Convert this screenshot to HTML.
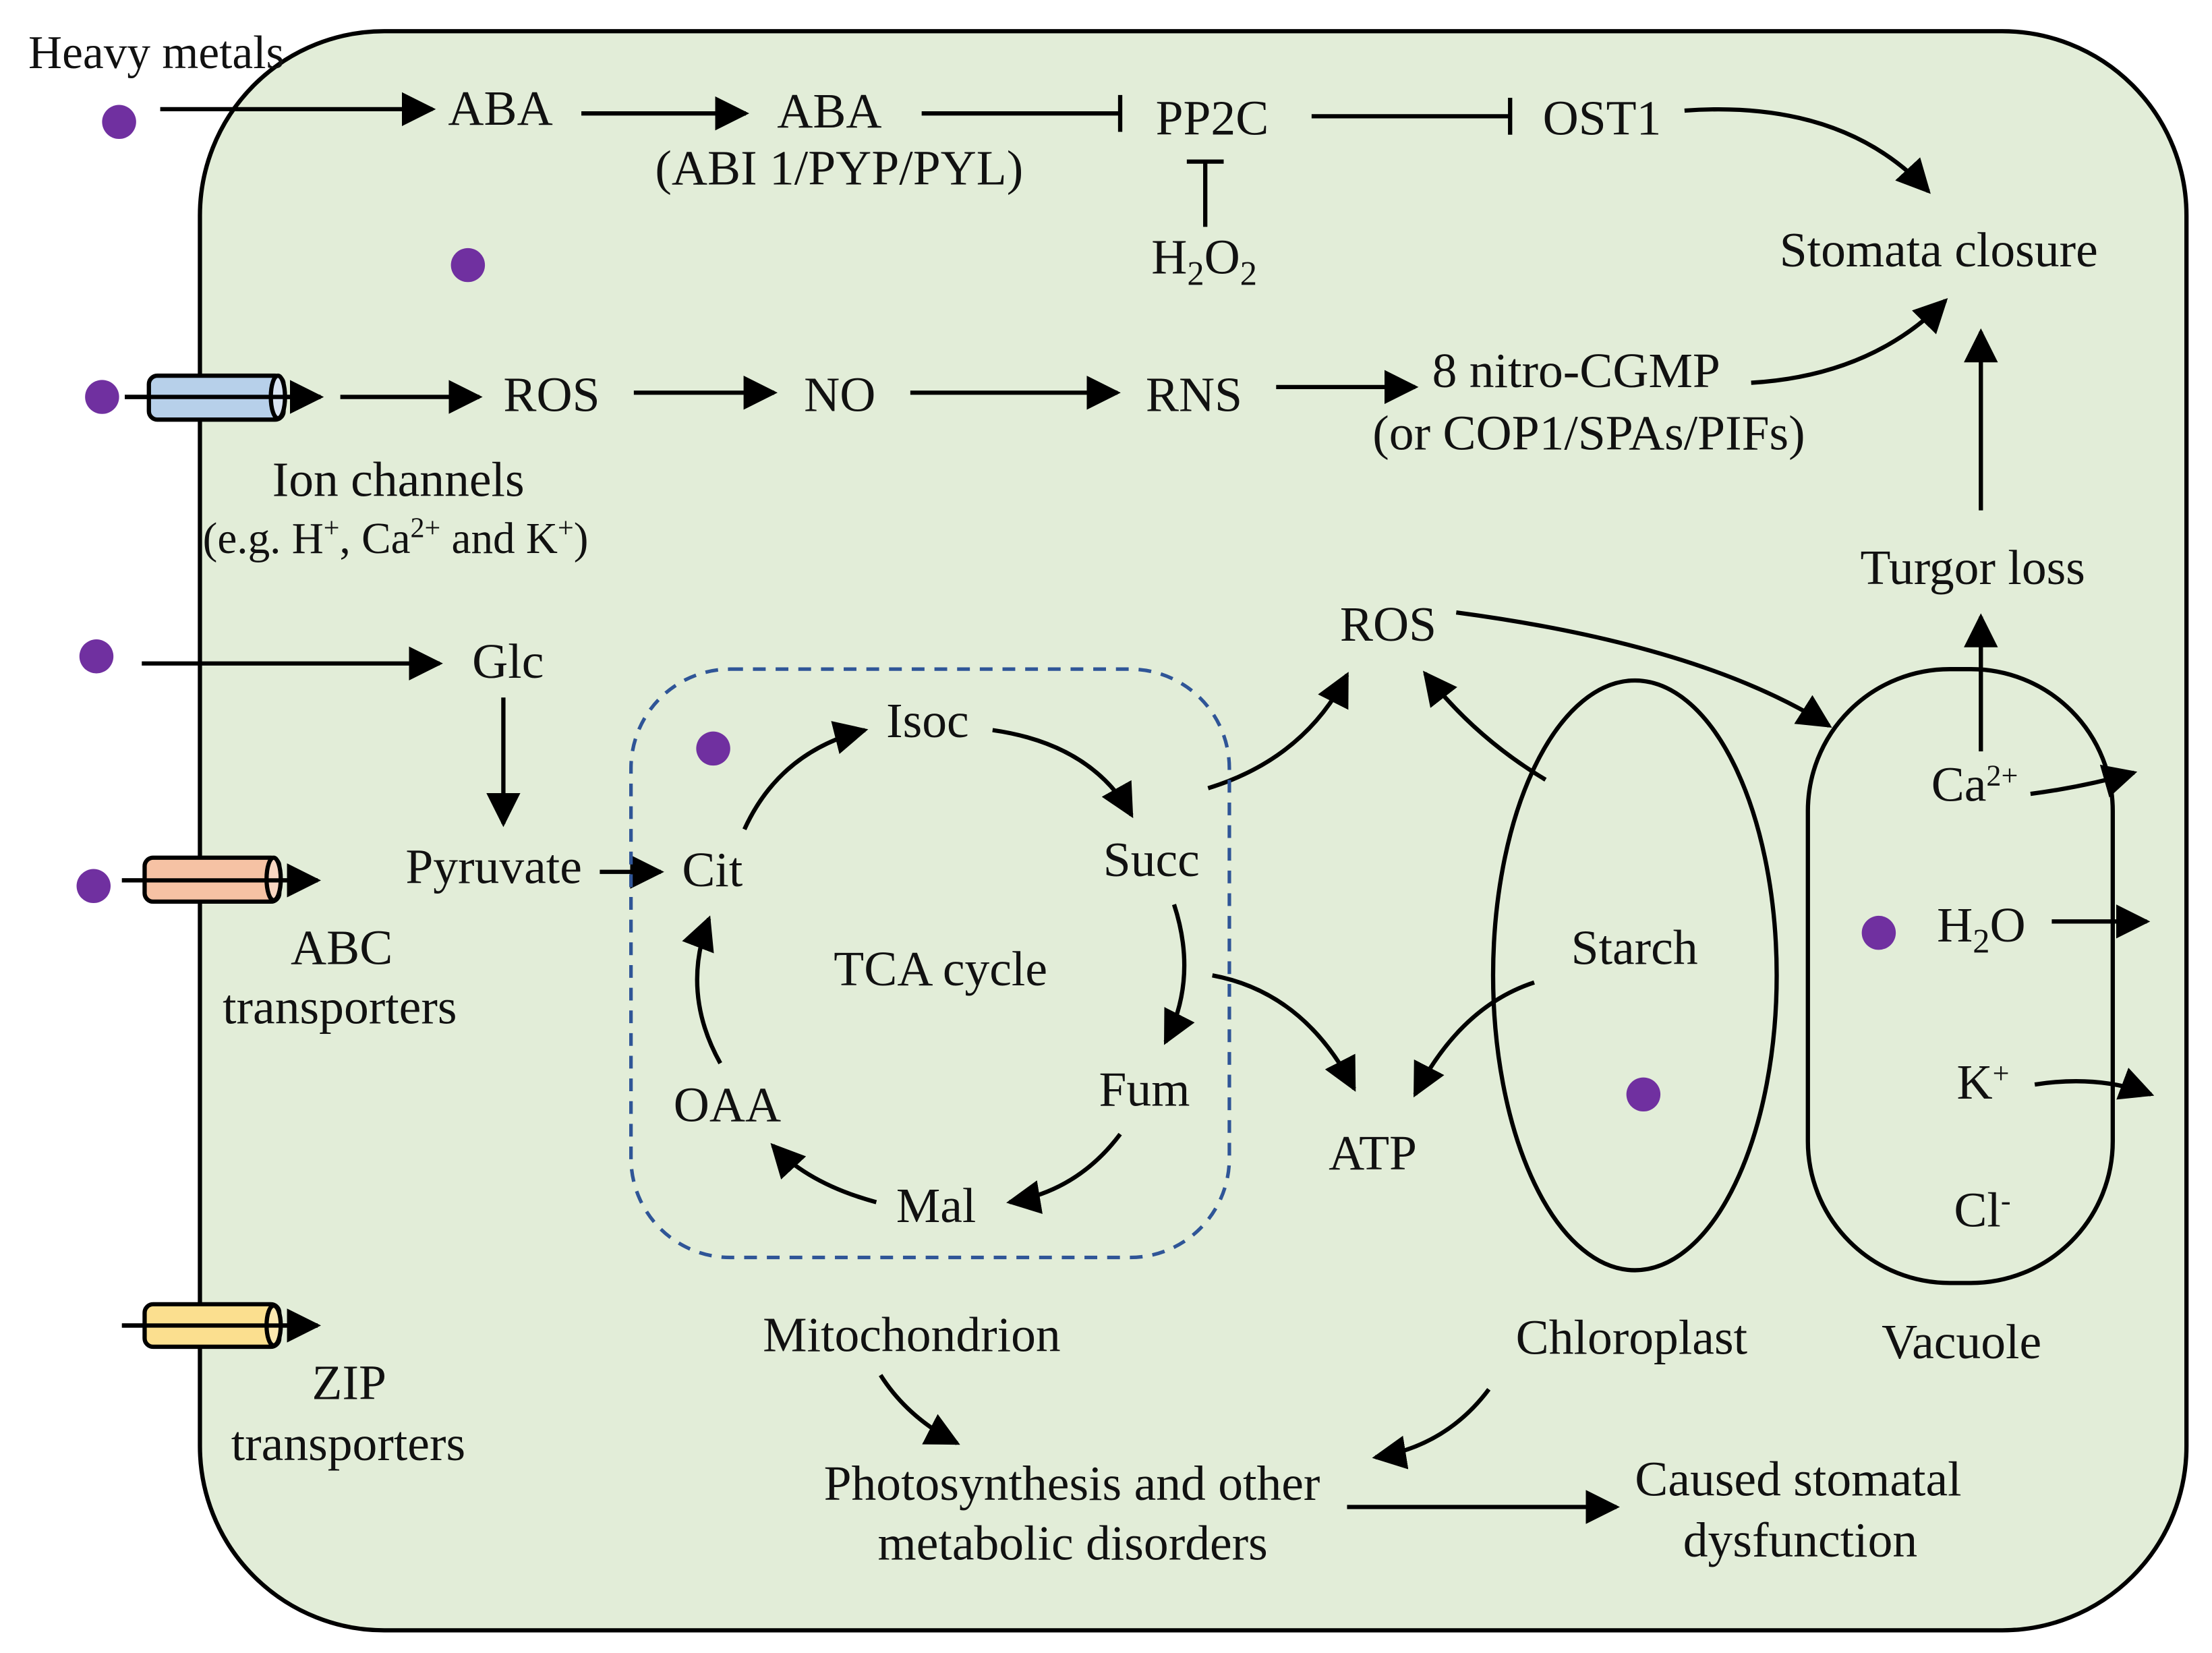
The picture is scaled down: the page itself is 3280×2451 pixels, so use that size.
<!DOCTYPE html>
<html><head><meta charset="utf-8"><style>html,body{margin:0;padding:0;background:#fff}svg{display:block}</style></head><body>
<svg width="3280" height="2451" viewBox="0 0 1560 1166" preserveAspectRatio="none" xmlns="http://www.w3.org/2000/svg" font-family="'Liberation Serif', serif" font-size="35" fill="#111">
<defs>
<marker id="b" viewBox="0 0 10 10" refX="9" refY="5" markerWidth="8" markerHeight="8" orient="auto"><path d="M0,0L10,5L0,10z" fill="#000"/></marker>
</defs>
<rect x="141" y="22" width="1401" height="1128" rx="130" fill="#e2edd8" stroke="#000" stroke-width="3"/>
<g stroke="#000" stroke-width="3" fill="none" marker-end="url(#b)">
<line x1="113" y1="77" x2="305" y2="77"/>
<line x1="410" y1="80" x2="526" y2="80"/>
<path d="M1188 78 Q1300 70 1360 135"/>
<line x1="240" y1="280" x2="338" y2="280"/>
<line x1="447" y1="277" x2="546" y2="277"/>
<line x1="642" y1="277" x2="788" y2="277"/>
<line x1="900" y1="273" x2="998" y2="273"/>
<path d="M1235 270 Q1320 265 1372 212"/>
<line x1="1397" y1="360" x2="1397" y2="234"/>
<line x1="100" y1="468" x2="310" y2="468"/>
<line x1="355" y1="492" x2="355" y2="581"/>
<line x1="423" y1="615" x2="466" y2="615"/>
<path d="M525 585 Q550 530 610 515"/>
<path d="M700 515 Q770 525 798 575"/>
<path d="M828 638 Q845 690 822 735"/>
<path d="M790 800 Q760 840 712 848"/>
<path d="M618 848 Q570 835 545 808"/>
<path d="M508 750 Q480 700 500 648"/>
<path d="M852 556 Q920 535 950 476"/>
<path d="M855 688 Q920 700 955 768"/>
<path d="M1090 550 Q1040 520 1005 475"/>
<path d="M1082 693 Q1030 710 998 772"/>
<path d="M1027 432 Q1200 455 1290 512"/>
<path d="M1432 560 Q1470 555 1505 545"/>
<line x1="1447" y1="650" x2="1514" y2="650"/>
<path d="M1435 765 Q1480 758 1517 772"/>
<line x1="1397" y1="530" x2="1397" y2="435"/>
<path d="M621 970 Q640 1000 675 1018"/>
<path d="M1050 980 Q1020 1020 970 1028"/>
<line x1="950" y1="1063" x2="1140" y2="1063"/>
<line x1="88" y1="280" x2="226" y2="280"/>
<line x1="86" y1="621" x2="224" y2="621"/>
<line x1="86" y1="935" x2="224" y2="935"/>
</g>
<g stroke="#000" stroke-width="3" fill="none">
<line x1="650" y1="80" x2="790" y2="80"/><line x1="790" y1="67" x2="790" y2="93"/>
<line x1="925" y1="82" x2="1065" y2="82"/><line x1="1065" y1="69" x2="1065" y2="95"/>
<line x1="850" y1="160" x2="850" y2="114"/><line x1="837" y1="114" x2="863" y2="114"/>
<rect x="445" y="472" width="422" height="415" rx="70" stroke="#2f5597" stroke-width="2.5" stroke-dasharray="9 7"/>
<ellipse cx="1153" cy="688" rx="100" ry="208"/>
<rect x="1275" y="472" width="215" height="433" rx="100"/>
</g>
<g stroke="#000" stroke-width="3">
<rect x="105" y="265" width="95" height="31" rx="6" fill="#b7d0ea"/><ellipse cx="196" cy="280" rx="5" ry="15" fill="#d8e4f2"/>
<rect x="102" y="605" width="95" height="31" rx="6" fill="#f6c2a4"/><ellipse cx="193" cy="620" rx="5" ry="15" fill="#f8d6c2"/>
<rect x="102" y="920" width="95" height="30" rx="6" fill="#fbdf8f"/><ellipse cx="193" cy="935" rx="5" ry="14" fill="#fde9b0"/>
</g>
<g stroke="#000" stroke-width="3"><line x1="88" y1="280" x2="226" y2="280"/><line x1="86" y1="621" x2="224" y2="621"/><line x1="86" y1="935" x2="224" y2="935"/></g>
<g fill="#7030a0">
<circle cx="84" cy="86" r="12"/><circle cx="330" cy="187" r="12"/><circle cx="72" cy="280" r="12"/>
<circle cx="68" cy="463" r="12"/><circle cx="66" cy="625" r="12"/><circle cx="503" cy="528" r="12"/>
<circle cx="1159" cy="772" r="12"/><circle cx="1325" cy="658" r="12"/>
</g>
<text x="20" y="48" font-size="33">Heavy metals</text>
<text x="316" y="88">ABA</text>
<text x="548" y="90">ABA</text>
<text x="462" y="130">(ABI 1/PYP/PYL)</text>
<text x="815" y="95">PP2C</text>
<text x="1088" y="95">OST1</text>
<text x="812" y="193">H<tspan font-size="24" dy="8">2</tspan><tspan dy="-8">O</tspan><tspan font-size="24" dy="8">2</tspan></text>
<text x="1255" y="188">Stomata closure</text>
<text x="355" y="290">ROS</text>
<text x="567" y="290">NO</text>
<text x="808" y="290">RNS</text>
<text x="1010" y="273">8 nitro-CGMP</text>
<text x="968" y="317">(or COP1/SPAs/PIFs)</text>
<text x="192" y="350">Ion channels</text>
<text x="143" y="390" font-size="31">(e.g. H<tspan font-size="20" dy="-11">+</tspan><tspan dy="11">, Ca</tspan><tspan font-size="20" dy="-11">2+</tspan><tspan dy="11"> and K</tspan><tspan font-size="20" dy="-11">+</tspan><tspan dy="11">)</tspan></text>
<text x="1312" y="412">Turgor loss</text>
<text x="333" y="478">Glc</text>
<text x="286" y="623">Pyruvate</text>
<text x="481" y="625">Cit</text>
<text x="205" y="680">ABC</text>
<text x="157" y="722">transporters</text>
<text x="220" y="987">ZIP</text>
<text x="163" y="1030">transporters</text>
<text x="625" y="520">Isoc</text>
<text x="778" y="618">Succ</text>
<text x="588" y="695">TCA cycle</text>
<text x="775" y="780">Fum</text>
<text x="632" y="862">Mal</text>
<text x="475" y="791">OAA</text>
<text x="945" y="452">ROS</text>
<text x="937" y="825">ATP</text>
<text x="1108" y="680">Starch</text>
<text x="1362" y="565">Ca<tspan font-size="21" dy="-11">2+</tspan></text>
<text x="1366" y="664">H<tspan font-size="24" dy="8">2</tspan><tspan dy="-8">O</tspan></text>
<text x="1380" y="775">K<tspan font-size="21" dy="-11">+</tspan></text>
<text x="1378" y="865">Cl<tspan font-size="21" dy="-11">-</tspan></text>
<text x="538" y="953">Mitochondrion</text>
<text x="1069" y="955">Chloroplast</text>
<text x="1327" y="958">Vacuole</text>
<text x="581" y="1058">Photosynthesis and other</text>
<text x="619" y="1100">metabolic disorders</text>
<text x="1153" y="1055">Caused stomatal</text>
<text x="1187" y="1098">dysfunction</text>
</svg>
</body></html>
